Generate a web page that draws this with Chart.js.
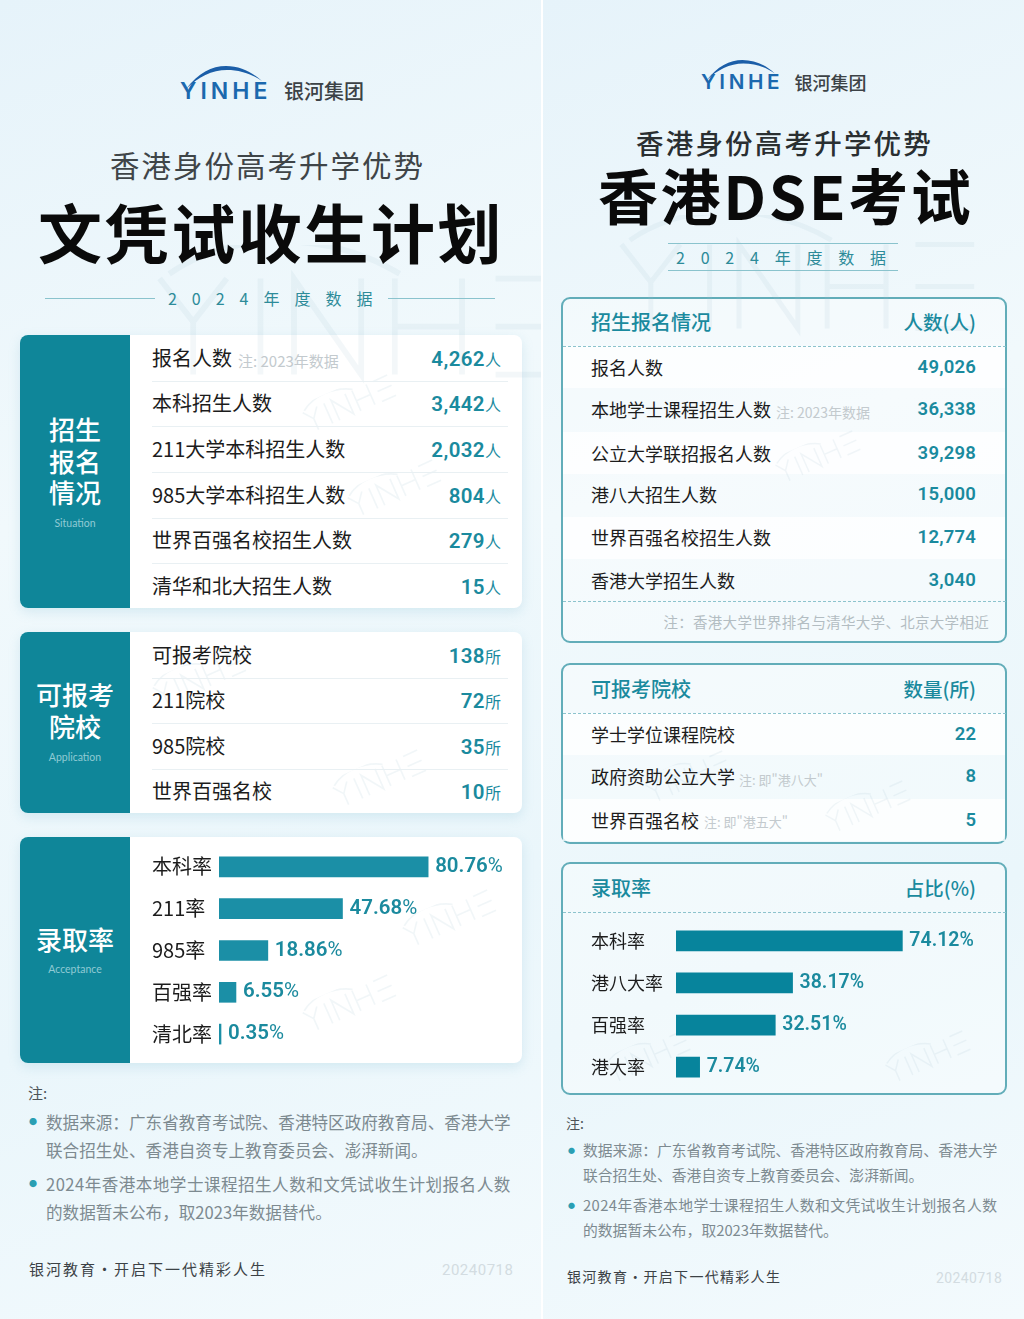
<!DOCTYPE html>
<html lang="zh">
<head>
<meta charset="utf-8">
<title>香港身份高考升学优势</title>
<script src="https://cdn.jsdelivr.net/npm/chart.js@4/dist/chart.umd.min.js"></script>
<style>
  html, body { margin: 0; padding: 0; background: #fff; }
  #page { position: relative; width: 1024px; height: 1319px; overflow: hidden; font-family: "Noto Sans CJK SC", "Noto Sans", sans-serif; }
  .panel { position: absolute; top: 0; height: 1319px; overflow: hidden; background: linear-gradient(160deg, #e6f3fa 0%, #f1f9fc 35%, #eaf6fb 70%, #f3fafd 100%); }
  .t { position: absolute; white-space: nowrap; line-height: 1; }
  .card { position: absolute; background: #fff; border-radius: 8px; box-shadow: 0 4px 12px rgba(120, 180, 205, .22); overflow: hidden; }
  .side { position: absolute; left: 0; top: 0; bottom: 0; width: 110px; background: #0f8699; }
  .box { position: absolute; border: 2px solid #62adb9; border-radius: 9px; box-sizing: border-box; background: rgba(255,255,255,.35); }
  .rule { position: absolute; height: 0; }
  .band { position: absolute; background: rgba(255,255,255,.75); z-index: 1; }
  canvas { position: absolute; }
</style>
</head>
<body>
<div id="page">
  <div id="left" class="panel" style="left:0;width:541px"></div>
  <div id="right" class="panel" style="left:543px;width:481px"></div>
  <canvas id="leftChart" width="392" height="233" style="left:130px;top:834px;z-index:5"></canvas>
  <canvas id="rightChart" width="440" height="190" style="left:564px;top:909px;z-index:5"></canvas>
</div>
<script>
// left panel data
const leftApplyLabels = ["报名人数", "本科招生人数", "211大学本科招生人数", "985大学本科招生人数", "世界百强名校招生人数", "清华和北大招生人数"];
const leftApplyValues = ["4,262", "3,442", "2,032", "804", "279", "15"];
const leftSchoolLabels = ["可报考院校", "211院校", "985院校", "世界百强名校"];
const leftSchoolValues = ["138", "72", "35", "10"];
const leftRateLabels = ["本科率", "211率", "985率", "百强率", "清北率"];
const leftRateValues = [80.76, 47.68, 18.86, 6.55, 0.35];

// right panel data
const rightApplyLabels = ["报名人数", "本地学士课程招生人数", "公立大学联招报名人数", "港八大招生人数", "世界百强名校招生人数", "香港大学招生人数"];
const rightApplyValues = ["49,026", "36,338", "39,298", "15,000", "12,774", "3,040"];
const rightSchoolLabels = ["学士学位课程院校", "政府资助公立大学", "世界百强名校"];
const rightSchoolValues = ["22", "8", "5"];
const rightRateLabels = ["本科率", "港八大率", "百强率", "港大率"];
const rightRateValues = [74.12, 38.17, 32.51, 7.74];

const TEAL = "#1a8a9e";

function put(parent, text, x, y, size, color, opts) {
  opts = opts || {};
  const d = document.createElement("div");
  d.className = "t";
  d.textContent = text;
  d.style.top = (y - size / 2) + "px";
  d.style.fontSize = size + "px";
  d.style.color = color;
  if (opts.weight) d.style.fontWeight = opts.weight;
  if (opts.spacing) d.style.letterSpacing = opts.spacing + "px";
  if (opts.font) d.style.fontFamily = opts.font;
  if (opts.align === "right") d.style.right = (parent.clientWidth - x) + "px";
  else if (opts.align === "center") { d.style.left = x + "px"; d.style.transform = "translateX(-50%)"; }
  else d.style.left = x + "px";
  d.style.zIndex = opts.z || 3;
  parent.appendChild(d);
  return d;
}

function valueWithUnit(parent, value, unit, right, y) {
  const d = put(parent, "", right, y - 1, 20.5, TEAL, { align: "right", font: "Roboto" });
  d.innerHTML = '<b style="font-weight:600;letter-spacing:.4px">' + value + '</b><span style="font:16px \'Noto Sans CJK SC\'">' + unit + "</span>";
}

function rule(parent, x, y, w, css) {
  const r = document.createElement("div");
  r.className = "rule";
  r.style.cssText = "left:" + x + "px;top:" + y + "px;width:" + w + "px;border-top:" + css + ";z-index:2";
  parent.appendChild(r);
}

function logo(parent, x, y, scale) {
  const s = document.createElementNS("http://www.w3.org/2000/svg", "svg");
  s.setAttribute("width", 90 * scale);
  s.setAttribute("height", 30 * scale);
  s.setAttribute("viewBox", "0 0 90 30");
  s.style.cssText = "position:absolute;left:" + x + "px;top:" + (y - 26 * scale) + "px;z-index:3";
  s.innerHTML = '<path d="M6 24 C18 8 32 1 46 1 C60 1 72 7 82 16 C72 9 60 5 47 5 C32 5 18 12 6 24Z" fill="#1b5ea8"/>';
  parent.appendChild(s);
  put(parent, "YINHE", x, y, 23 * scale, "#1b68ae", { font: "Inter", weight: 600, spacing: 4 * scale });
  put(parent, "银河集团", x + 104 * scale, y, 20 * scale, "#3c4246", { weight: 500 });
}

// faint logo marks drawn as plain strokes behind the content
const markStrokes = "M0 0 L14 18 L28 0 M14 18 L14 40 M42 0 L42 40 M56 40 L56 0 L84 40 L84 0 M98 0 L98 40 M98 20 L126 20 M126 0 L126 40 M168 0 L140 0 M140 20 L168 20 M168 40 L140 40";
function mark(parent, x, y, scale, angle, stroke, width, z) {
  const s = document.createElementNS("http://www.w3.org/2000/svg", "svg");
  s.setAttribute("width", 180 * scale);
  s.setAttribute("height", 60 * scale);
  s.setAttribute("viewBox", "-4 -14 180 60");
  s.style.cssText = "position:absolute;left:" + x + "px;top:" + y + "px;z-index:" + z + ";transform:rotate(" + angle + "deg);pointer-events:none";
  s.innerHTML = '<path d="' + markStrokes + '" fill="none" stroke="' + stroke + '" stroke-width="' + width + '"/>' +
    '<path d="M4 -2 C30 -20 70 -20 100 -2" fill="none" stroke="' + stroke + '" stroke-width="' + width + '"/>';
  parent.appendChild(s);
}

function card(parent, x, y, w, h, sideLines, sideLineY, sideEn, sideEnY) {
  const c = document.createElement("div");
  c.className = "card";
  c.style.cssText = "left:" + x + "px;top:" + y + "px;width:" + w + "px;height:" + h + "px";
  parent.appendChild(c);
  const s = document.createElement("div");
  s.className = "side";
  c.appendChild(s);
  sideLines.forEach((line, i) => put(parent, line, 75, sideLineY[i], 26, "#fff", { align: "center", weight: 500 }));
  put(parent, sideEn, 75, sideEnY, 10.5, "#8fcad4", { align: "center", font: "Lato" });
}

function box(parent, x, y, w, h, title, unit, headY, dashY) {
  const b = document.createElement("div");
  b.className = "box";
  b.style.cssText = "left:" + x + "px;top:" + y + "px;width:" + w + "px;height:" + h + "px";
  parent.appendChild(b);
  put(parent, title, 48, headY, 20, TEAL, { weight: 500 });
  put(parent, unit, 433, headY, 19.5, TEAL, { align: "right", weight: 500 });
  rule(parent, 20, dashY, 443, "1.5px dashed #8cc3cd");
}

function bands(parent, ys, h) {
  ys.forEach((y) => {
    const b = document.createElement("div");
    b.className = "band";
    b.style.cssText = "left:20px;width:442px;top:" + (y - h / 2) + "px;height:" + h + "px";
    parent.appendChild(b);
  });
}

// left panel
const L = document.getElementById("left");
mark(L, 150, 245, 2.4, 0, "rgba(165,195,210,.13)", 2.4, 1);
logo(L, 180, 91, 1);
put(L, "香港身份高考升学优势", 110, 165, 29.5, "#3f4548", { spacing: 2 });
put(L, "文凭试收生计划", 38, 230, 64, "#0a0a0a", { spacing: 2.6, weight: 700 });
put(L, "2 0 2 4 年 度 数 据", 168, 298, 16, "#2d8b99", { spacing: 5.7 });
rule(L, 45, 298, 110, "1px solid #8ac3cd");
rule(L, 388, 298, 107, "1px solid #8ac3cd");

card(L, 20, 335, 502, 273, ["招生", "报名", "情况"], [429, 461, 492], "Situation", 523);
card(L, 20, 632, 502, 181, ["可报考", "院校"], [694, 726], "Application", 757);
card(L, 20, 837, 502, 226, ["录取率"], [939], "Acceptance", 969);
[[300, 385], [345, 470], [150, 660], [330, 760], [300, 985], [400, 900]].forEach((p) => mark(L, p[0], p[1], .55, -24, "rgba(150,185,200,.13)", 3, 2));

const leftApplyY = [358, 403, 449, 495, 540, 586];
leftApplyLabels.forEach((label, i) => {
  put(L, label, 152, leftApplyY[i], 20, "#1c1c1c");
  valueWithUnit(L, leftApplyValues[i], "人", 501, leftApplyY[i]);
  if (i < 5) rule(L, 152, leftApplyY[i] + 23, 356, "1px solid #e9f0f3");
});
put(L, "注: 2023年数据", 238, 360, 15, "#c3cace");

const leftSchoolY = [655, 700, 746, 791];
leftSchoolLabels.forEach((label, i) => {
  put(L, label, 152, leftSchoolY[i], 20, "#1c1c1c");
  valueWithUnit(L, leftSchoolValues[i], "所", 501, leftSchoolY[i]);
  if (i < 3) rule(L, 152, leftSchoolY[i] + 23, 356, "1px solid #e9f0f3");
});

put(L, "注:", 28, 1092, 15, "#4c5357");
put(L, "●", 29, 1122, 8, "#2a9fb3");
put(L, "数据来源：广东省教育考试院、香港特区政府教育局、香港大学", 46, 1122, 16.6, "#7d8a90");
put(L, "联合招生处、香港自资专上教育委员会、澎湃新闻。", 46, 1150, 16.6, "#7d8a90");
put(L, "●", 29, 1184, 8, "#2a9fb3");
put(L, "2024年香港本地学士课程招生人数和文凭试收生计划报名人数", 46, 1184, 16.6, "#7d8a90", { spacing: .45 });
put(L, "的数据暂未公布，取2023年数据替代。", 46, 1212, 16.6, "#7d8a90");
put(L, "银河教育·开启下一代精彩人生", 29, 1268, 15, "#3c4246", { spacing: 2 });
put(L, "20240718", 442, 1270, 15, "#d3dce1", { font: "Roboto", spacing: .5 });

// right panel, x here is relative to the panel at 543
const R = document.getElementById("right");
mark(R, 70, 215, 2.1, 0, "rgba(165,195,210,.13)", 2.4, 1);
logo(R, 158, 82, .9);
put(R, "香港身份高考升学优势", 93, 143, 27.5, "#2a2f31", { spacing: 2.2, weight: 500 });
put(R, "香港DSE考试", 55, 194, 60, "#0a0a0a", { weight: 700, spacing: 2.6 });
put(R, "2 0 2 4 年 度 数 据", 133, 257, 16, "#2d8b99", { spacing: 6.1 });
rule(R, 125, 243, 230, "1px solid #8ac3cd");
rule(R, 125, 270, 230, "1px solid #8ac3cd");

box(R, 18, 297, 446, 346, "招生报名情况", "人数(人)", 322, 346);
box(R, 18, 663, 446, 181, "可报考院校", "数量(所)", 689, 713);
box(R, 18, 862, 446, 233, "录取率", "占比(%)", 888, 912);
rule(R, 20, 601, 443, "1.5px dashed #8cc3cd");
bands(R, [367, 453, 538, 734, 820], 42);
[[230, 440], [100, 760], [280, 790], [60, 1040], [340, 1040]].forEach((p) => mark(R, p[0], p[1], .5, -24, "rgba(150,185,200,.12)", 3, 2));

const rightApplyY = [367, 409, 453, 494, 537, 580];
rightApplyLabels.forEach((label, i) => {
  put(R, label, 48, rightApplyY[i], 18, "#1c1c1c");
  put(R, rightApplyValues[i], 433, rightApplyY[i], 18.5, TEAL, { align: "right", font: "Roboto", weight: 600, spacing: .2 });
});
put(R, "注: 2023年数据", 233, 412, 14, "#c3cace");
put(R, "注：香港大学世界排名与清华大学、北京大学相近", 446, 622, 14.5, "#b3bdc2", { align: "right", spacing: .3 });

const rightSchoolY = [734, 776, 820];
rightSchoolLabels.forEach((label, i) => {
  put(R, label, 48, rightSchoolY[i], 18, "#1c1c1c");
  put(R, rightSchoolValues[i], 433, rightSchoolY[i], 18.5, TEAL, { align: "right", font: "Roboto", weight: 600 });
});
put(R, "注: 即\"港八大\"", 196, 779, 13, "#c3cace");
put(R, "注: 即\"港五大\"", 161, 821, 13, "#c3cace");

put(R, "注:", 23, 1123, 14, "#4c5357");
put(R, "●", 25, 1150, 7, "#2a9fb3");
put(R, "数据来源：广东省教育考试院、香港特区政府教育局、香港大学", 40, 1150, 14.8, "#7d8a90");
put(R, "联合招生处、香港自资专上教育委员会、澎湃新闻。", 40, 1175, 14.8, "#7d8a90");
put(R, "●", 25, 1205, 7, "#2a9fb3");
put(R, "2024年香港本地学士课程招生人数和文凭试收生计划报名人数", 40, 1205, 14.8, "#7d8a90", { spacing: .4 });
put(R, "的数据暂未公布，取2023年数据替代。", 40, 1230, 14.8, "#7d8a90");
put(R, "银河教育·开启下一代精彩人生", 24, 1276, 14, "#3c4246", { spacing: 1.3 });
put(R, "20240718", 393, 1278, 14, "#d3dce1", { font: "Roboto", spacing: .4 });

// percent labels at the end of each bar
const endLabels = {
  id: "endLabels",
  afterDatasetsDraw(chart, args, opts) {
    const ctx = chart.ctx;
    const meta = chart.getDatasetMeta(0);
    ctx.save();
    ctx.fillStyle = opts.color;
    ctx.textBaseline = "middle";
    meta.data.forEach((bar, i) => {
      const num = chart.data.datasets[0].data[i].toFixed(2);
      let x = bar.x + opts.gap;
      ctx.font = "600 " + opts.size + "px Roboto";
      ctx.fillText(num, x, bar.y);
      x += ctx.measureText(num).width;
      ctx.font = opts.percentWeight + " " + opts.size + "px Roboto";
      ctx.fillText("%", x, bar.y);
    });
    ctx.restore();
  },
};

function rateChart(id, labels, values, o) {
  new Chart(document.getElementById(id), {
    type: "bar",
    plugins: [endLabels],
    data: {
      labels: labels,
      datasets: [{ data: values, backgroundColor: o.barColor, barThickness: 20, minBarLength: 2 }],
    },
    options: {
      indexAxis: "y",
      responsive: false,
      animation: false,
      layout: { padding: { left: o.pad, right: 0, top: 0, bottom: 0 } },
      plugins: {
        legend: { display: false },
        tooltip: { enabled: false },
        endLabels: { color: o.labelColor, size: o.labelSize, gap: 7, percentWeight: o.percentWeight },
      },
      scales: {
        x: { display: false, min: 0, max: o.max },
        y: {
          afterFit(scale) { scale.width = o.axisWidth; },
          grid: { display: false },
          border: { display: false },
          ticks: {
            crossAlign: "far",
            color: "#1c1c1c",
            padding: 0,
            font: { family: "Noto Sans CJK SC", size: o.tickSize },
          },
        },
      },
    },
  });
}

rateChart("leftChart", leftRateLabels, leftRateValues, {
  barColor: "#1b8fa6", labelColor: "#1b8a9e", labelSize: 20.5, percentWeight: 400,
  pad: 22, axisWidth: 67, max: 117, tickSize: 20,
});
rateChart("rightChart", rightRateLabels, rightRateValues, {
  barColor: "#07849c", labelColor: "#1b8a9e", labelSize: 19.5, percentWeight: 500,
  pad: 27, axisWidth: 85, max: 107.4, tickSize: 18,
});
</script>
</body>
</html>
